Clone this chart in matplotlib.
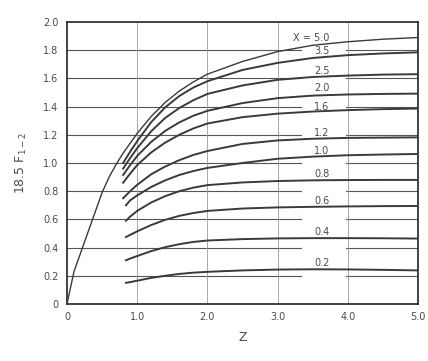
import matplotlib
matplotlib.use("Agg")
import matplotlib.pyplot as plt

# curve data: Z values and 18.5*F1-2 for each X
z_x50 = [0.0, 0.1, 0.2, 0.3, 0.4, 0.5, 0.6, 0.7, 0.8, 0.9, 1.0, 1.2, 1.4, 1.6, 1.8, 2.0, 2.5, 3.0, 3.5, 4.0, 4.5, 5.0]
f_x50 = [0.0, 0.23, 0.37, 0.51, 0.65, 0.79, 0.90, 0.99, 1.07, 1.14, 1.21, 1.33, 1.43, 1.51, 1.575, 1.63, 1.72, 1.79, 1.835, 1.86, 1.878, 1.89]

z_std = [0.8, 0.9, 1.0, 1.2, 1.4, 1.6, 1.8, 2.0, 2.5, 3.0, 3.5, 4.0, 4.5, 5.0]
f_x35 = [1.00, 1.08, 1.155, 1.29, 1.395, 1.475, 1.535, 1.58, 1.66, 1.71, 1.745, 1.765, 1.777, 1.785]
f_x25 = [0.96, 1.035, 1.105, 1.225, 1.32, 1.39, 1.445, 1.49, 1.55, 1.59, 1.61, 1.62, 1.627, 1.63]
f_x20 = [0.915, 0.985, 1.05, 1.15, 1.228, 1.288, 1.335, 1.37, 1.425, 1.46, 1.478, 1.486, 1.49, 1.492]
f_x16 = [0.86, 0.925, 0.985, 1.075, 1.145, 1.20, 1.245, 1.28, 1.325, 1.35, 1.365, 1.375, 1.382, 1.386]
f_x12 = [0.75, 0.80, 0.845, 0.92, 0.975, 1.02, 1.057, 1.085, 1.135, 1.16, 1.172, 1.178, 1.18, 1.182]

z_low = [0.84, 0.9, 1.0, 1.2, 1.4, 1.6, 1.8, 2.0, 2.5, 3.0, 3.5, 4.0, 4.5, 5.0]
f_x10 = [0.70, 0.735, 0.77, 0.83, 0.877, 0.915, 0.943, 0.965, 1.00, 1.03, 1.045, 1.055, 1.06, 1.064]
f_x08 = [0.59, 0.62, 0.66, 0.72, 0.765, 0.80, 0.825, 0.843, 0.862, 0.872, 0.877, 0.879, 0.88, 0.88]
f_x06 = [0.475, 0.49, 0.515, 0.56, 0.597, 0.625, 0.645, 0.66, 0.677, 0.685, 0.689, 0.692, 0.694, 0.695]
f_x04 = [0.31, 0.322, 0.34, 0.375, 0.403, 0.424, 0.44, 0.45, 0.46, 0.465, 0.467, 0.467, 0.466, 0.464]
f_x02 = [0.15, 0.155, 0.165, 0.185, 0.20, 0.213, 0.222, 0.228, 0.238, 0.244, 0.246, 0.245, 0.242, 0.238]

curves = [
    (z_std, f_x35), (z_std, f_x25), (z_std, f_x20), (z_std, f_x16), (z_std, f_x12),
    (z_low, f_x10), (z_low, f_x08), (z_low, f_x06), (z_low, f_x04), (z_low, f_x02),
]

labels = ["X = 5.0", "3.5", "2.5", "2.0", "1.6", "1.2", "1.0", "0.8", "0.6", "0.4", "0.2"]
label_y = [1.885, 1.795, 1.655, 1.53, 1.40, 1.215, 1.087, 0.922, 0.73, 0.508, 0.289]

x_ticks = [0, 1, 2, 3, 4, 5]
x_ticklabels = ["0", "1.0", "2.0", "3.0", "4.0", "5.0"]
y_ticks = [0, 0.2, 0.4, 0.6, 0.8, 1.0, 1.2, 1.4, 1.6, 1.8, 2.0]
y_ticklabels = ["0", "0.2", "0.4", "0.6", "0.8", "1.0", "1.2", "1.4", "1.6", "1.8", "2.0"]

ink = "#3a3a3a"
text_c = "#4a4a4a"

fig = plt.figure(figsize=(4.28, 3.61), dpi=100)
ax = fig.add_axes([0.1565, 0.158, 0.82, 0.781])
ax.set_xlim(0, 5)
ax.set_ylim(0, 2.0)

# grid: horizontal lines broken where the curve labels sit
for y in y_ticks[1:-1]:
    ax.plot([0, 3.33], [y, y], color="#555555", lw=0.8, zorder=1)
    ax.plot([3.97, 5], [y, y], color="#555555", lw=0.8, zorder=1)
for x in x_ticks[1:-1]:
    ax.axvline(x, color="#9a9a9a", lw=0.6, zorder=1)

ax.plot(z_x50, f_x50, color=ink, lw=1.0, zorder=3)
for z, f in curves:
    ax.plot(z, f, color=ink, lw=1.4, zorder=3)

for lab, y in zip(labels, label_y):
    ax.text(3.74, y, lab, ha="right", va="center", fontsize=7, color=text_c, zorder=4)

ax.set_xticks(x_ticks)
ax.set_xticklabels(x_ticklabels)
ax.set_yticks(y_ticks)
ax.set_yticklabels(y_ticklabels)
ax.tick_params(length=0, labelsize=7, colors=text_c, pad=6)
for s in ax.spines.values():
    s.set_color("#222222")
    s.set_linewidth(1.2)

ax.set_xlabel("Z", fontsize=9, color=text_c, labelpad=6)
ax.set_ylabel("18.5 F$_{1-2}$", fontsize=9, color=text_c, labelpad=10)

fig.savefig("out.png", dpi=100)
